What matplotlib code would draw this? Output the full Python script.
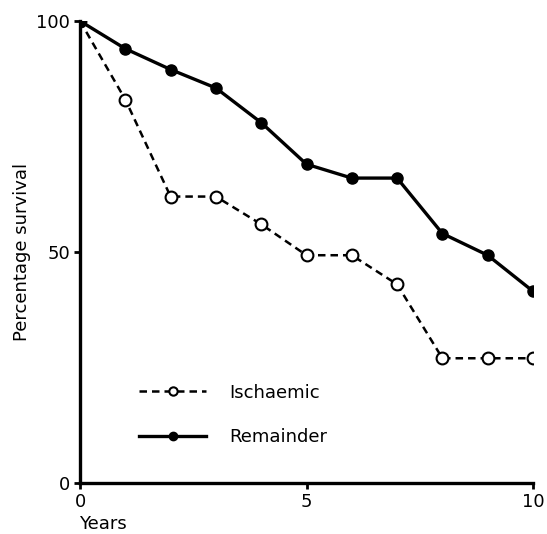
import matplotlib
matplotlib.use("Agg")
import matplotlib.pyplot as plt

years = [0, 1, 2, 3, 4, 5, 6, 7, 8, 9, 10]
ischaemic = [100, 83, 62, 62, 56, 49.3, 49.3, 43, 27, 27, 27]
remainder = [100, 94, 89.5, 85.5, 78, 69, 66, 66, 54, 49.3, 41.5]
x_ticks = [0, 5, 10]
y_ticks = [0, 50, 100]

plt.rcParams['font.family'] = ['DejaVu Sans']

fig = plt.figure(figsize=(5.47, 5.34), dpi=100)
ax = fig.add_axes([80/547, 1-483/534, (533-80)/547, (483-21)/534])

ax.plot(years, ischaemic, color='black', lw=1.8, ls=(0, (3, 2)),
        marker='o', ms=8.5, mfc='white', mec='black', mew=1.5,
        label='Ischaemic', zorder=3)
ax.plot(years, remainder, color='black', lw=2.4, ls='-',
        marker='o', ms=8, mfc='black', mec='black',
        label='Remainder', zorder=3)

ax.set_xlim(0, 10)
ax.set_ylim(0, 100)
ax.set_xticks(x_ticks)
ax.set_yticks(y_ticks)
ax.set_xticklabels([str(t) for t in x_ticks], fontsize=13)
ax.set_yticklabels([str(t) for t in y_ticks], fontsize=13)
ax.tick_params(axis='both', direction='out', length=4, width=2, pad=3)
for s in ['top', 'right']:
    ax.spines[s].set_visible(False)
for s in ['left', 'bottom']:
    ax.spines[s].set_linewidth(2.4)

ax.set_ylabel('Percentage survival', fontsize=13, labelpad=4)
fig.text(79/547, 0.002, 'Years', fontsize=13, ha='left', va='bottom')

leg = ax.legend(loc='upper left', bbox_to_anchor=(0.095, 0.25), frameon=False,
                fontsize=13, handlelength=3.7, numpoints=1, labelspacing=1.45,
                handletextpad=1.3)
for h in leg.legend_handles:
    h.set_markersize(6)

fig.savefig('out.png', dpi=100)
